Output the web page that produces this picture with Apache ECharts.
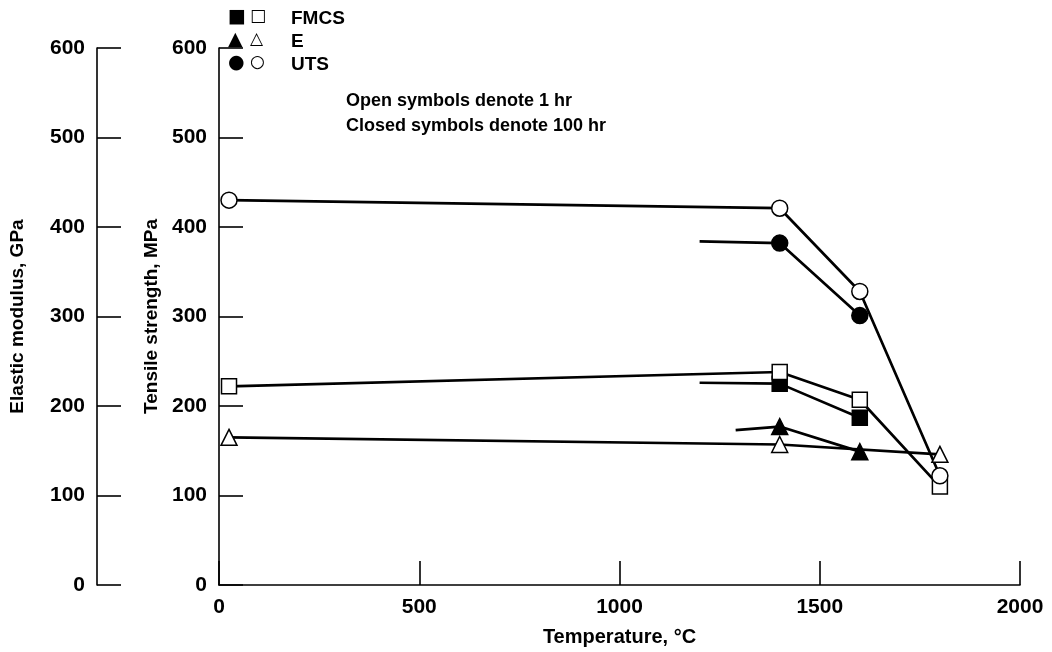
<!DOCTYPE html>
<html>
<head>
<meta charset="utf-8">
<script src="https://cdn.jsdelivr.net/npm/echarts@6/dist/echarts.min.js"></script>
<style>html,body{margin:0;padding:0;background:#fff}#c{width:1052px;height:652px}</style>
</head>
<body>
<div id="c"></div>
<script>
// ---- data ----
const xTicks = [0, 500, 1000, 1500, 2000];
const yTicks = [0, 100, 200, 300, 400, 500, 600];

const utsOpenT = [25, 1400, 1600, 1800];
const utsOpenV = [430, 421, 328, 122];
const utsClosedT = [1200, 1400, 1600];
const utsClosedV = [384, 382, 301];

const fmcsOpenT = [25, 1400, 1600, 1800];
const fmcsOpenV = [222, 238, 207, 110];
const fmcsClosedT = [1200, 1400, 1600];
const fmcsClosedV = [226, 225, 187];

const eOpenT = [25, 1400, 1800];
const eOpenV = [165, 157, 146];
const eClosedT = [1290, 1400, 1600];
const eClosedV = [173, 177, 149];

const legendRows = [
  {filled: '■', open: '□', label: 'FMCS'},
  {filled: '▲', open: '△', label: 'E'},
  {filled: '●', open: '○', label: 'UTS'}
];
const notes = ['Open symbols denote 1 hr', 'Closed symbols denote 100 hr'];

// ---- build ----
const FONT = '"Liberation Sans", Arial, Helvetica, sans-serif';
function pts(T, V, lineOnlyFirst) {
  return T.map((t, i) => {
    const d = {value: [t, V[i]]};
    if (lineOnlyFirst && i === 0) d.symbol = 'none';
    return d;
  });
}
function mk(name, T, V, symbol, filled, yIdx, lineOnlyFirst, size) {
  return {
    name, type: 'line', yAxisIndex: yIdx, data: pts(T, V, lineOnlyFirst),
    symbol, symbolSize: size, showAllSymbol: true,
    lineStyle: {color: '#000', width: 2.7},
    itemStyle: {color: filled ? '#000' : '#fff', borderColor: '#000', borderWidth: 1.5, opacity: 1},
    z: filled ? 3 : 4, animation: false
  };
}

const yAxisBase = {
  type: 'value', min: 0, max: 600, interval: 100, position: 'left',
  axisLine: {show: true, lineStyle: {color: '#000', width: 1.6}},
  axisTick: {show: true, inside: true, length: 24, lineStyle: {color: '#000', width: 1.6}},
  axisLabel: {color: '#000', fontFamily: FONT, fontWeight: 'bold', fontSize: 21, margin: 12},
  splitLine: {show: false},
  nameLocation: 'middle', nameRotate: 90,
  nameTextStyle: {color: '#000', fontFamily: FONT, fontWeight: 'bold', fontSize: 19}
};

const graphics = [];
legendRows.forEach((r, i) => {
  const y = 20 + i * 23;
  graphics.push({type: 'text', left: 228, top: y - 12, style: {text: r.filled, fill: '#000', font: 'bold 19px "DejaVu Sans"'}});
  graphics.push({type: 'text', left: 250, top: y - 12, style: {text: r.open, fill: '#000', font: '17px "DejaVu Sans"'}});
  graphics.push({type: 'text', left: 291, top: y - 11, style: {text: r.label, fill: '#000', font: 'bold 19px ' + FONT}});
});
notes.forEach((t, i) => {
  graphics.push({type: 'text', left: 346, top: 92 + i * 25, style: {text: t, fill: '#000', font: 'bold 18px ' + FONT}});
});

const option = {
  backgroundColor: '#fff',
  animation: false,
  grid: {left: 218, right: 32, top: 48, bottom: 64},
  xAxis: {
    type: 'value', min: 0, max: 2000, interval: 500,
    axisLine: {show: true, lineStyle: {color: '#000', width: 1.6}},
    axisTick: {show: true, inside: true, length: 24, lineStyle: {color: '#000', width: 1.6}},
    axisLabel: {color: '#000', fontFamily: FONT, fontWeight: 'bold', fontSize: 21, margin: 12,
      formatter: v => String(v)},
    splitLine: {show: false},
    name: 'Temperature, °C', nameLocation: 'middle', nameGap: 42,
    nameTextStyle: {color: '#000', fontFamily: FONT, fontWeight: 'bold', fontSize: 20}
  },
  yAxis: [
    Object.assign({}, yAxisBase, {name: 'Tensile strength, MPa', nameGap: 58, offset: 0}),
    Object.assign({}, yAxisBase, {name: 'Elastic modulus, GPa', nameGap: 70, offset: 122})
  ],
  series: [
    mk('FMCS 100 hr', fmcsClosedT, fmcsClosedV, 'rect', true, 0, true, 15),
    mk('FMCS 1 hr', fmcsOpenT, fmcsOpenV, 'rect', false, 0, false, 15),
    mk('E 100 hr', eClosedT, eClosedV, 'triangle', true, 1, true, 16),
    mk('E 1 hr', eOpenT, eOpenV, 'triangle', false, 1, false, 16),
    mk('UTS 100 hr', utsClosedT, utsClosedV, 'circle', true, 0, true, 16),
    mk('UTS 1 hr', utsOpenT, utsOpenV, 'circle', false, 0, false, 16)
  ],
  graphic: graphics
};
const chart = echarts.init(document.getElementById('c'));
chart.setOption(option);
</script>
</body>
</html>
